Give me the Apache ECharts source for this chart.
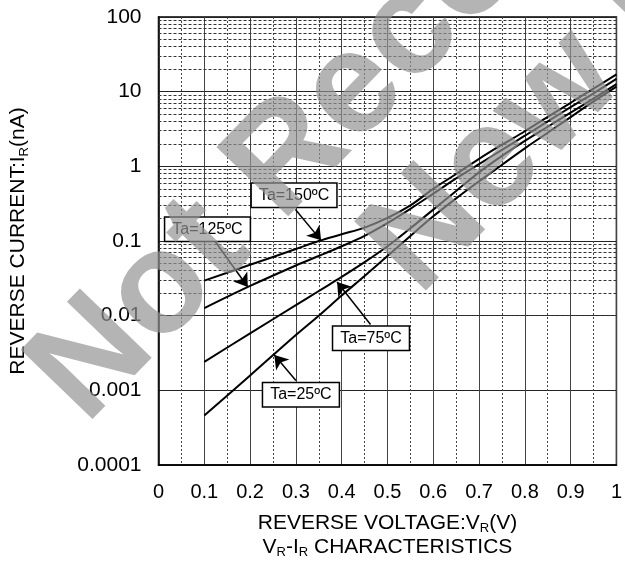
<!DOCTYPE html>
<html><head><meta charset="utf-8">
<script src="https://cdn.jsdelivr.net/npm/echarts@6/dist/echarts.min.js"></script>
<style>html,body{margin:0;padding:0;background:#fff}#c{width:625px;height:565px}</style>
</head><body><div id="c"></div>
<script>
// Reverse voltage (V)
const vr = [0.1,0.2,0.3,0.35,0.4,0.45,0.5,0.55,0.6,0.65,0.7,0.75,0.8,0.85,0.9,0.95,1.0];
// Reverse current (nA)
const ir150 = [0.0295,0.048,0.078,0.10,0.123,0.151,0.204,0.30,0.50,0.79,1.26,1.95,2.95,4.6,7.1,11,17];
const ir125 = [0.0126,0.025,0.047,0.063,0.085,0.117,0.174,0.27,0.43,0.69,1.07,1.66,2.57,4.0,6.2,9.5,14.8];
const ir75  = [0.0024,0.0058,0.0138,0.0214,0.033,0.052,0.085,0.148,0.263,0.468,0.83,1.38,2.19,3.39,5.25,8.1,12.6];
const ir25  = [0.00046,0.00158,0.0055,0.0100,0.0186,0.034,0.063,0.117,0.214,0.372,0.63,1.05,1.74,2.82,4.57,7.4,11.7];

const xTickLabels = ['0','0.1','0.2','0.3','0.4','0.5','0.6','0.7','0.8','0.9','1'];
const yTickLabels = ['0.0001','0.001','0.01','0.1','1','10','100'];
const decades = [0.0001,0.001,0.01,0.1,1,10];
const minorMult = [2,3,4,5,6,7,8,9];

// annotations: label text, label box anchor, arrow start, arrow tip (data coordinates)
const annLabels = ['Ta=150ºC','Ta=125ºC','Ta=75ºC','Ta=25ºC'];
const annBox = [[0.296,0.41],[0.107,0.144],[0.464,0.0050],[0.311,0.00087]];
const annFrom = [[0.299,0.265],[0.123,0.100],[0.463,0.0076],[0.30,0.00135]];
const annTo = [[0.355,0.102],[0.195,0.0242],[0.39,0.0283],[0.253,0.00297]];

const FONT = '"Liberation Sans", Arial, sans-serif';
const pair = (xs, ys) => xs.map((x, i) => [x, ys[i]]);

const minorLines = [];
decades.forEach(d => minorMult.forEach(m => minorLines.push({yAxis: d * m})));

const chart = echarts.init(document.getElementById('c'), null, {renderer: 'canvas'});
const curve = (name, ys) => ({
  name, type: 'line', data: pair(vr, ys), smooth: 0.35, showSymbol: false, symbol: 'none',
  lineStyle: {color: '#000', width: 2}, z: 5, silent: true
});
const WM = {font: 'bold 145px "Liberation Sans", Arial, sans-serif', fill: 'rgba(146,146,146,0.69)',
  textAlign: 'center', textVerticalAlign: 'middle', align: 'center', verticalAlign: 'middle'};
const WM_ROT = 46 * Math.PI / 180;
chart.setOption({
  animation: false,
  backgroundColor: '#fff',
  grid: {left: 158, right: 5, top: 17, bottom: 100, show: true, borderColor: '#000', borderWidth: 1.5, backgroundColor: 'transparent'},
  xAxis: {
    type: 'value', min: 0, max: 1, interval: 0.1,
    axisLine: {show: true, lineStyle: {color: '#000', width: 1.5}},
    axisTick: {show: false},
    minorTick: {show: false, splitNumber: 2},
    minorSplitLine: {show: true, lineStyle: {color: '#444', width: 1, type: [2, 2]}},
    splitLine: {show: true, lineStyle: {color: '#444', width: 1}},
    axisLabel: {fontFamily: FONT, fontSize: 20, color: '#000', margin: 17,
      formatter: v => xTickLabels[Math.round(v * 10)]},
    name: '{a|REVERSE VOLTAGE:V}{s|R}{a|(V)}\n{a|V}{s|R}{a|-I}{s|R}{a| CHARACTERISTICS}',
    nameLocation: 'middle', nameGap: 46,
    nameTextStyle: {fontFamily: FONT, color: '#000', align: 'center',
      rich: {a: {fontFamily: FONT, fontSize: 21, lineHeight: 24, color: '#000'},
             s: {fontFamily: FONT, fontSize: 13, lineHeight: 8, verticalAlign: 'bottom', color: '#000'}}}
  },
  yAxis: {
    type: 'log', logBase: 10, min: 0.0001, max: 100,
    axisLine: {show: true, lineStyle: {color: '#000', width: 1.5}},
    axisTick: {show: false},
    splitLine: {show: true, lineStyle: {color: '#222', width: 1}},
    axisLabel: {fontFamily: FONT, fontSize: 21, color: '#000', margin: 17,
      formatter: v => yTickLabels[Math.round(Math.log10(v)) + 4]},
    name: '{a|REVERSE CURRENT:I}{s|R}{a|(nA)}',
    nameLocation: 'middle', nameRotate: 90, nameGap: 128,
    nameTextStyle: {fontFamily: FONT, color: '#000',
      rich: {a: {fontFamily: FONT, fontSize: 21, lineHeight: 24, color: '#000'},
             s: {fontFamily: FONT, fontSize: 13, lineHeight: 8, verticalAlign: 'bottom', color: '#000'}}}
  },
  series: [
    {
      name: 'grid', type: 'line', data: [], silent: true, z: 1,
      markLine: {silent: true, symbol: ['none', 'none'], label: {show: false}, animation: false,
        lineStyle: {color: '#333', width: 1, type: [3, 2]}, data: minorLines}
    },
    curve('Ta=150', ir150),
    curve('Ta=125', ir125),
    curve('Ta=75', ir75),
    curve('Ta=25', ir25),
    {
      name: 'annot', type: 'line', data: [], silent: true, z: 8,
      markLine: {silent: true, symbol: ['none', 'arrow'], symbolSize: 13, label: {show: false}, animation: false,
        itemStyle: {color: '#000'},
        lineStyle: {color: '#000', width: 1.5, type: 'solid'},
        data: annFrom.map((f, i) => [{coord: f}, {coord: annTo[i]}])},
      markPoint: {silent: true, symbol: 'rect', symbolSize: 1, itemStyle: {color: 'rgba(0,0,0,0)'}, animation: false,
        label: {show: true, position: 'inside', fontFamily: FONT, fontSize: 16, color: '#000',
          backgroundColor: '#fff', borderColor: '#000', borderWidth: 1.5, padding: [4, 7, 3, 7]},
        data: annBox.map((b, i) => ({coord: b, value: annLabels[i], label: {formatter: annLabels[i]}}))}
    }
  ],
  graphic: [
    {type: 'text', x: 597, y: -161, rotation: WM_ROT, z: 100, silent: true,
     style: Object.assign({text: 'Not Recommended for'}, WM)},
    {type: 'text', x: 704, y: -55, rotation: WM_ROT, z: 100, silent: true,
     style: Object.assign({text: 'New Designs'}, WM)}
  ]
});
</script></body></html>
